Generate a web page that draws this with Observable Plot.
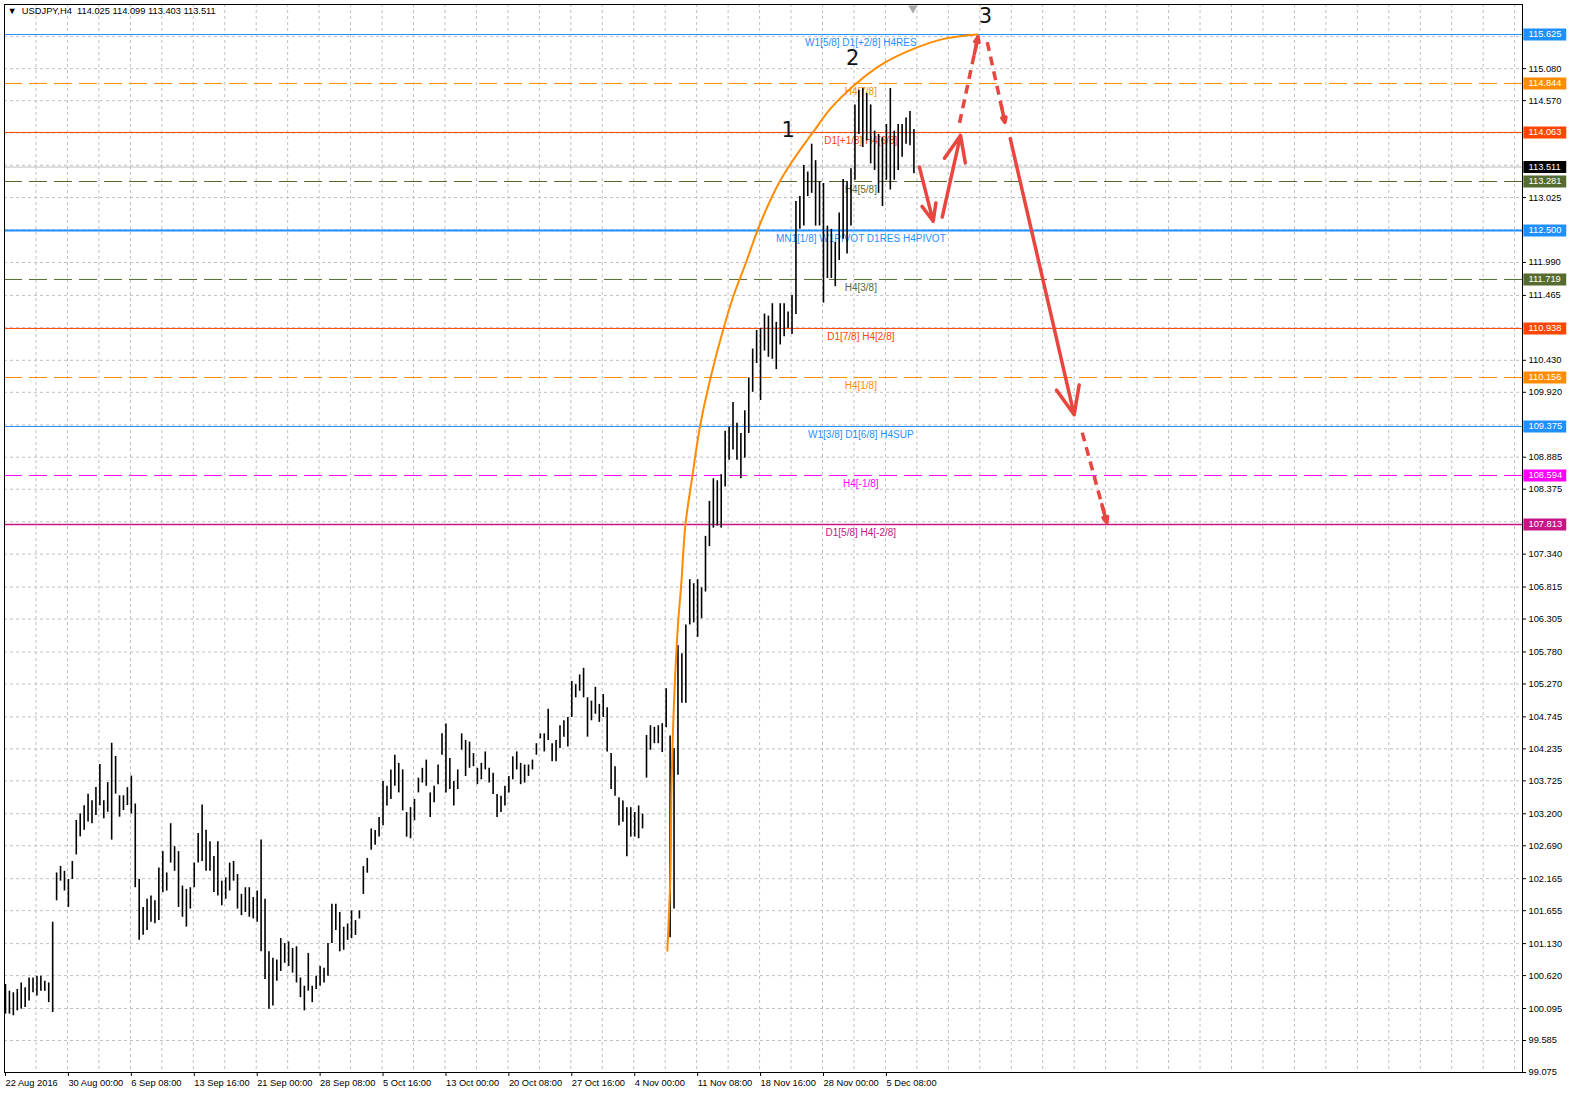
<!DOCTYPE html>
<html lang="en">
<head>
<meta charset="utf-8">
<title>USDJPY,H4</title>
<script src="https://cdn.jsdelivr.net/npm/d3@7"></script>
<script src="https://cdn.jsdelivr.net/npm/@observablehq/plot@0.6"></script>
<style>
  html, body { margin: 0; padding: 0; background: #fff; overflow: hidden; }
  #graphic svg { display: block; max-width: none !important; }
</style>
</head>
<body>
<div id="graphic"></div>
<script>
  // bars shown across the plot area (H4 bars, every sample covers two bars)
  const nBars = 772;

  const hi = [
    100.477, 100.372, 100.346, 100.398, 100.503, 100.425, 100.582, 100.582, 100.608, 100.608,
    100.529, 100.503, 101.471, 102.257, 102.361, 102.283, 102.152, 102.440, 103.094, 103.199,
    103.330, 103.513, 103.408, 103.617, 103.984, 103.408, 103.696, 104.324, 104.115, 103.487,
    103.487, 103.617, 103.801, 103.356, 102.152, 101.707, 101.838, 101.890, 101.812, 102.335,
    102.597, 102.257, 103.042, 102.675, 102.597, 102.047, 101.995, 102.021, 102.414, 102.885,
    103.340, 102.937, 102.754, 102.518, 102.754, 102.126, 102.178, 102.414, 102.440, 102.231,
    101.916, 102.021, 102.021, 101.864, 101.969, 102.780, 101.838, 101.000, 100.896, 100.870,
    101.210, 101.131, 101.157, 101.053, 101.079, 100.582, 100.451, 100.974, 100.451, 100.608,
    100.765, 100.739, 101.131, 101.759, 101.757, 101.626, 101.391, 101.443, 101.652, 101.496,
    101.652, 102.358, 102.488, 102.959, 102.932, 103.141, 103.716, 103.638, 103.899, 104.134,
    104.004, 103.899, 103.220, 103.298, 103.429, 103.768, 103.925, 104.056, 103.533, 103.638,
    103.977, 104.474, 104.630, 104.082, 103.716, 103.899, 104.474, 104.369, 104.343, 104.160,
    103.925, 104.004, 104.186, 103.925, 103.847, 103.507, 103.481, 103.638, 103.795, 104.108,
    104.186, 104.004, 103.977, 103.977, 104.056, 104.317, 104.474, 104.474, 104.866, 104.317,
    104.369, 104.604, 104.683, 104.735, 105.310, 105.258, 105.414, 105.519, 105.049, 104.996,
    105.216, 104.944, 105.101, 104.892, 104.160, 103.951, 103.455, 103.403, 103.298, 103.298,
    103.220, 103.324, 103.194, 104.448, 104.604, 104.578, 104.604, 104.636, 105.194, 104.439,
    104.242, 105.883, 105.752, 106.211, 106.933, 106.868, 106.933, 106.802, 107.623, 108.181,
    108.542, 108.509, 108.607, 109.297, 109.362, 109.756, 109.428, 109.264, 109.625, 110.150,
    110.610, 110.905, 110.938, 111.168, 111.135, 111.332, 111.036, 111.332, 111.332, 111.201,
    111.463, 112.962, 113.040, 113.536, 113.432, 113.876, 113.614, 113.275, 113.249, 112.570,
    112.518, 112.309, 112.779, 113.312, 113.275, 113.484, 114.502, 114.737, 114.763, 114.685,
    114.502, 114.085, 114.032, 113.980, 114.189, 114.763, 114.085, 114.189, 114.189, 114.293,
    114.398, 114.111
  ];
  const lo = [
    100.006, 100.006, 99.980, 100.058, 100.085, 100.111, 100.215, 100.346, 100.294, 100.372,
    100.372, 100.189, 100.032, 101.812, 102.126, 101.969, 101.707, 102.152, 102.544, 102.832,
    102.937, 103.068, 103.042, 103.173, 103.330, 103.120, 103.225, 102.780, 103.513, 103.146,
    103.251, 103.330, 103.199, 102.021, 101.184, 101.262, 101.341, 101.471, 101.445, 101.498,
    101.943, 101.969, 102.414, 102.283, 101.707, 101.550, 101.393, 101.681, 102.021, 102.414,
    102.440, 102.283, 102.283, 101.943, 101.890, 101.733, 101.838, 101.969, 102.126, 101.681,
    101.576, 101.628, 101.550, 101.524, 101.471, 101.000, 100.556, 100.085, 100.137, 100.529,
    100.686, 100.817, 100.765, 100.660, 100.503, 100.268, 100.058, 100.372, 100.189, 100.398,
    100.451, 100.503, 100.608, 101.131, 101.339, 100.999, 101.025, 101.182, 101.208, 101.260,
    101.522, 101.914, 102.253, 102.619, 102.697, 102.828, 103.011, 103.324, 103.429, 103.638,
    103.533, 103.246, 102.828, 102.802, 103.089, 103.533, 103.690, 103.638, 103.141, 103.377,
    103.664, 104.134, 103.533, 103.586, 103.324, 103.586, 104.213, 103.795, 103.925, 103.951,
    103.664, 103.742, 103.899, 103.690, 103.507, 103.141, 103.220, 103.324, 103.533, 103.742,
    103.899, 103.664, 103.690, 103.795, 103.899, 104.134, 104.395, 104.186, 104.369, 104.030,
    104.030, 104.239, 104.422, 104.265, 104.735, 105.049, 105.153, 105.049, 104.422, 104.683,
    104.787, 104.657, 104.735, 104.186, 103.586, 103.481, 103.011, 103.063, 102.514, 102.828,
    102.828, 102.802, 102.959, 103.768, 104.213, 104.317, 104.317, 104.176, 104.570, 101.222,
    101.681, 103.815, 104.964, 104.964, 106.211, 106.244, 106.014, 106.310, 106.736, 107.459,
    107.754, 107.787, 107.754, 108.411, 108.837, 109.001, 108.837, 108.542, 108.870, 109.264,
    109.920, 110.380, 109.789, 110.577, 110.478, 110.446, 110.282, 110.675, 110.807, 110.938,
    110.840, 111.160, 112.518, 112.570, 113.040, 113.092, 112.570, 112.570, 111.343, 111.735,
    111.735, 111.604, 112.022, 112.361, 112.126, 112.570, 113.301, 114.032, 113.823, 113.928,
    113.562, 113.458, 113.092, 112.883, 113.301, 113.145, 113.301, 113.458, 113.667, 113.876,
    113.850, 113.406
  ];

  // Murrey-math style levels
  const levelPrice = [115.625, 114.844, 114.063, 113.281, 112.500, 111.719, 110.938, 110.156, 109.375, 108.594, 107.813];
  const levelName = ["W1[5/8] D1[+2/8] H4RES", "H4[7/8]", "D1[+1/8] H4[6/8]", "H4[5/8]",
    "MN1[1/8] W1PIVOT D1RES H4PIVOT", "H4[3/8]", "D1[7/8] H4[2/8]", "H4[1/8]",
    "W1[3/8] D1[6/8] H4SUP", "H4[-1/8]", "D1[5/8] H4[-2/8]"];
  const levelColor = ["#1e90ff", "#ff8c00", "#ff4500", "#556b2f", "#1e90ff", "#556b2f",
    "#ff4500", "#ff8c00", "#1e90ff", "#ff00ff", "#c71585"];
  const levelDashed = [false, true, false, true, false, true, false, true, false, true, false];
  const levelWidth = [1, 1, 1, 1, 2, 1, 1, 1, 1, 1, 1.5];
  const lastPrice = 113.511;

  // axis ticks
  const timeLabels = ["22 Aug 2016", "30 Aug 00:00", "6 Sep 08:00", "13 Sep 16:00", "21 Sep 00:00",
    "28 Sep 08:00", "5 Oct 16:00", "13 Oct 00:00", "20 Oct 08:00", "27 Oct 16:00", "4 Nov 00:00",
    "11 Nov 08:00", "18 Nov 16:00", "28 Nov 00:00", "5 Dec 08:00"];
  const priceLabels = [115.080, 114.570, 113.025, 111.990, 111.465, 110.430, 109.920, 108.885,
    108.375, 107.340, 106.815, 106.305, 105.780, 105.270, 104.745, 104.235, 103.725, 103.200,
    102.690, 102.165, 101.655, 101.130, 100.620, 100.095, 99.585, 99.075];
  const priceGrid = [115.595, 115.080, 114.570, 114.055, 113.540, 113.025, 112.510, 111.990,
    111.465, 110.950, 110.430, 109.920, 109.400, 108.885, 108.375, 107.855, 107.340, 106.815,
    106.305, 105.780, 105.270, 104.745, 104.235, 103.725, 103.200, 102.690, 102.165, 101.655,
    101.130, 100.620, 100.095, 99.585];

  // hand drawn annotations: bar index, price
  const arcBar = [337.1, 338.7, 339.2, 340.4, 342.5, 344.2, 346.3, 349.8, 353.7, 359.1, 365.8, 370.8,
    377.2, 383.8, 393.7, 402.0, 411.2, 420.3, 433.5, 446.6, 459.8, 476.6, 494.8];
  const arcPrice = [101.016, 102.276, 103.584, 104.899, 106.215, 106.869, 107.810, 108.576, 109.374,
    110.155, 110.953, 111.463, 111.997, 112.571, 113.249, 113.666, 114.068, 114.450, 114.851,
    115.155, 115.363, 115.547, 115.625];
  const arrows = [
    {b1: 465.3, p1: 113.510, b2: 472.3, p2: 112.646, dashed: false},
    {b1: 476.9, p1: 112.713, b2: 486.2, p2: 114.016, dashed: false},
    {b1: 485.7, p1: 114.215, b2: 495.1, p2: 115.588, dashed: true},
    {b1: 499.8, p1: 115.505, b2: 508.8, p2: 114.223, dashed: true},
    {b1: 511.5, p1: 113.963, b2: 544.0, p2: 109.561, dashed: false},
    {b1: 548.1, p1: 109.277, b2: 560.6, p2: 107.842, dashed: true}
  ];
  const waveText = ["1", "2", "3"];
  const waveBar = [398.5, 431.4, 498.9];
  const wavePrice = [114.094, 115.242, 115.912];

  const bars = hi.map((h, k) => ({i: 2 * k + 0.5, hi: h, lo: lo[k]}));
  const levels = levelPrice.map((p, j) => ({price: p, name: levelName[j], color: levelColor[j],
    dashed: levelDashed[j], w: levelWidth[j]}));
  const boxes = levels.concat([{price: lastPrice, color: "#000000"}]);
  const arc = arcBar.map((b, j) => ({b, p: arcPrice[j]}));
  const waves = waveText.map((t, j) => ({t, b: waveBar[j], p: wavePrice[j]}));
  const timeTicks = timeLabels.map((d, j) => j * 32);
  const gridX = d3.range(16, nBars, 16);
  // dashed arrows: dashed shaft plus a solid head on the last stretch
  const dashed = arrows.filter(d => d.dashed);
  const heads = dashed.map(d => ({b1: d.b1 + (d.b2 - d.b1) * 0.8, p1: d.p1 + (d.p2 - d.p1) * 0.8, b2: d.b2, p2: d.p2}));

  const font = "'Liberation Sans', Arial, sans-serif";
  const red = "#e8463e";

  const chart = Plot.plot({
    width: 1596,
    height: 1118,
    marginLeft: 4,
    marginRight: 74,
    marginTop: 4,
    marginBottom: 46,
    style: {fontFamily: font, fontSize: "9.3px", background: "#ffffff", color: "#000"},
    x: {domain: [0, nBars]},
    y: {domain: [99.075, 116.103]},
    color: {type: "identity"},
    marks: [
      Plot.ruleY(priceGrid, {stroke: "#c0c0c0", strokeDasharray: "3,3"}),
      Plot.ruleX(gridX, {stroke: "#c0c0c0", strokeDasharray: "3,3"}),
      Plot.ruleY([lastPrice], {stroke: "#c0c0c0"}),
      Plot.ruleY(levels.filter(d => !d.dashed), {y: "price", stroke: "color", strokeWidth: "w"}),
      Plot.ruleY(levels.filter(d => d.dashed), {y: "price", stroke: "color", strokeWidth: "w", strokeDasharray: "18,7"}),
      Plot.text(levels, {x: 435.5, y: "price", text: "name", fill: "color", dy: 8, fontSize: 10}),
      Plot.ruleX(bars, {x: "i", y1: "lo", y2: "hi", stroke: "#000", strokeWidth: 1.6}),
      Plot.line(arc, {x: "b", y: "p", curve: "catmull-rom", stroke: "#ff8c00", strokeWidth: 2}),
      Plot.arrow(arrows.filter(d => !d.dashed), {x1: "b1", y1: "p1", x2: "b2", y2: "p2",
        stroke: red, strokeWidth: 3.5, headLength: 13, headAngle: 45}),
      Plot.link(dashed, {x1: "b1", y1: "p1", x2: "b2", y2: "p2",
        stroke: red, strokeWidth: 3.5, strokeDasharray: "9,6"}),
      Plot.arrow(heads, {x1: "b1", y1: "p1", x2: "b2", y2: "p2",
        stroke: red, strokeWidth: 3.5, headLength: 13, headAngle: 45}),
      Plot.text(waves, {x: "b", y: "p", text: "t", fontSize: 21,
        fontFamily: "'DejaVu Sans', sans-serif", fill: "#111"}),
      Plot.dot([{b: 462, p: 116.045}], {x: "b", y: "p", symbol: "triangle", r: 3.5, rotate: 180, fill: "#a8a8a8"}),
      Plot.text(["\u25BC  USDJPY,H4  114.025 114.099 113.403 113.511"], {frameAnchor: "top-left",
        dx: 3, dy: 3, fontSize: 9.3, fill: "#000"}),
      Plot.axisX({ticks: timeTicks, tickFormat: d => timeLabels[Math.round(d / 32)], anchor: "bottom",
        tickSize: 4, tickPadding: 3, textAnchor: "start", dx: 1, label: null, fontSize: 9.3}),
      Plot.axisY({ticks: priceLabels, tickFormat: d => d.toFixed(3), anchor: "right",
        tickSize: 3, tickPadding: 3, label: null, fontSize: 9.3}),
      Plot.ruleY(boxes, {y: "price", x1: nBars + 0.7, x2: nBars + 22.5, stroke: "color", strokeWidth: 12}),
      Plot.text(boxes, {x: nBars, y: "price", text: d => d.price.toFixed(3), dx: 6,
        textAnchor: "start", fill: "#ffffff", fontSize: 9.3}),
      Plot.frame({stroke: "#000"})
    ]
  });
  document.getElementById("graphic").appendChild(chart);
</script>
</body>
</html>
